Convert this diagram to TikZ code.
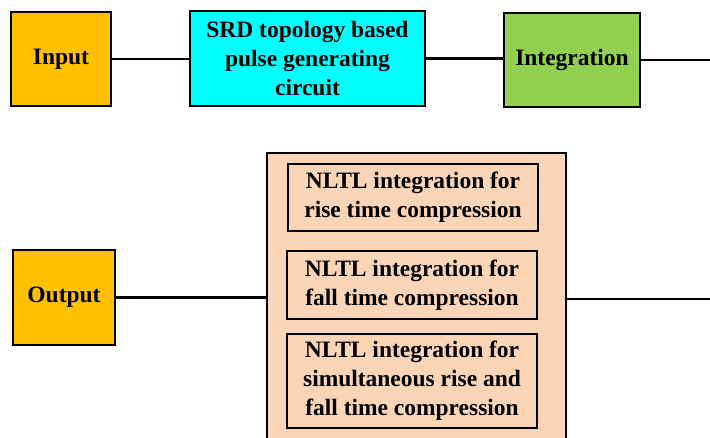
\documentclass[tikz,border=0pt]{standalone}
\usepackage{fontspec}
\setmainfont{Liberation Serif}
\usetikzlibrary{positioning}
\definecolor{ioOrange}{HTML}{FFC000}
\definecolor{srdCyan}{HTML}{00FFFF}
\definecolor{intGreen}{HTML}{92D050}
\definecolor{nltlPeach}{HTML}{FBD5B5}

\tikzset{
  blockbox/.style={draw, line width=1.5pt, inner sep=0pt, align=center,
    font=\fontsize{17.6}{21.6}\selectfont\bfseries},
  wire/.style={line width=2pt}
}

\begin{document}
\begin{tikzpicture}[x=0.75pt, y=-0.75pt]
  \useasboundingbox (0,0) rectangle (710,438);
  \clip (0,0) rectangle (710,438);
  % top row
  \node[blockbox, fill=ioOrange, minimum width=75pt, minimum height=70.5pt]
    (input) at (61,59) {Input};
  \node[blockbox, fill=srdCyan, minimum width=176.25pt, minimum height=71.25pt]
    (srd) at (307.5,58.5) {SRD topology based\\pulse generating\\circuit};
  \node[blockbox, fill=intGreen, minimum width=102pt, minimum height=70.5pt]
    (integ) at (572,60) {Integration};
  \coordinate (topend) at (712,60);
  % bottom row
  \node[blockbox, fill=ioOrange, minimum width=76.5pt, minimum height=71.25pt]
    (output) at (64,297.5) {Output};
  \node[blockbox, fill=nltlPeach, minimum width=224.25pt, minimum height=219pt]
    (nltl) at (416.5,299) {};
  \node[blockbox, fill=nltlPeach, minimum width=187.5pt, minimum height=50.25pt]
    (rise) at (413,197.5) {NLTL integration for\\rise time compression};
  \node[blockbox, fill=nltlPeach, minimum width=187.5pt, minimum height=51pt]
    (fall) at (412,285) {NLTL integration for\\fall time compression};
  \node[blockbox, fill=nltlPeach, minimum width=187.5pt, minimum height=70.5pt]
    (both) at (412,381) {NLTL integration for\\simultaneous rise and\\fall time compression};
  \coordinate (botend) at (712,299);
  % connectors
  \draw[wire] (input) -- (srd.west |- input.east);
  \draw[wire] (srd.east) -- (integ.west |- srd.east);
  \draw[wire] (integ) -- (topend);
  \draw[wire] (output) -- (nltl.west |- output.east);
  \draw[wire] (nltl.east) -- (botend);
\end{tikzpicture}
\end{document}
